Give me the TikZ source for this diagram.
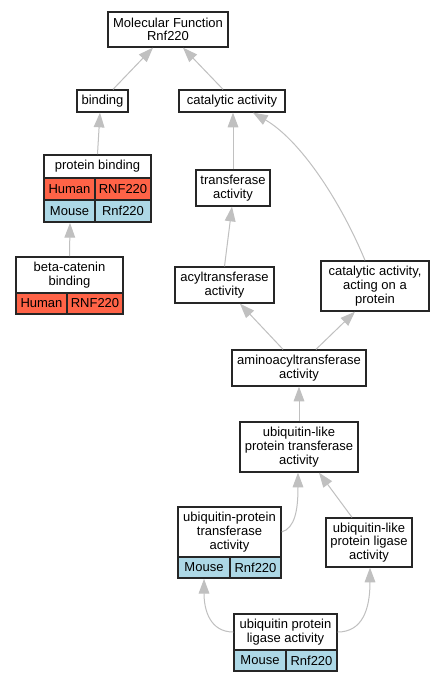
\documentclass[tikz,border=0pt]{standalone}
\usepackage{fontspec}
\setmainfont{Liberation Sans}
\usetikzlibrary{fit,arrows.meta,calc}
\definecolor{tomatoc}{HTML}{FF6347}
\definecolor{lightbluec}{HTML}{ADD8E6}
\definecolor{edgec}{HTML}{C0C0C0}
\begin{document}
\begin{tikzpicture}[x=0.75pt,y=-0.75pt,
  cell/.style={draw=black!85, line width=1pt, inner sep=0pt, align=center, font=\fontsize{9.75}{10.25}\selectfont},
  span/.style n args={4}{minimum width={(#3-#1)*0.75pt}, minimum height={(#4-#2)*0.75pt}, at={({(#1+#3)/2},{(#2+#4)/2})}},
  title/.style={cell, fill=white},
  hum/.style={cell, fill=tomatoc},
  mou/.style={cell, fill=lightbluec},
  grp/.style={inner sep=0pt},
  edge/.style={draw=edgec, line width=0.75pt, -{Triangle[length=11pt,width=8pt]}},
  ]
\useasboundingbox[fill=white] (0,0) rectangle (444,683);

\node[title, span={108}{12}{228}{47}] (mf) {Molecular Function\\Rnf220};
\node[title, span={77}{90}{128}{112}] (bind) {binding};
\node[title, span={179}{90}{285}{112}] (cat) {catalytic activity};

\node[title, span={44}{155}{151}{178}] (pb-t) {protein binding};
\node[hum, span={44}{178}{95}{200}] (pb-h1) {Human};
\node[hum, span={95}{178}{151}{200}] (pb-h2) {RNF220};
\node[mou, span={44}{200}{95}{222}] (pb-m1) {Mouse};
\node[mou, span={95}{200}{151}{222}] (pb-m2) {Rnf220};
\node[grp, fit=(pb-t)(pb-m2)(pb-m1)] (pb) {};

\node[title, span={16}{257}{123}{293}] (bc-t) {beta-catenin\\binding};
\node[hum, span={16}{293}{67}{314}] (bc-h1) {Human};
\node[hum, span={67}{293}{123}{314}] (bc-h2) {RNF220};
\node[grp, fit=(bc-t)(bc-h1)(bc-h2)] (bc) {};

\node[title, span={196}{170}{270}{206}] (tr) {transferase\\activity};
\node[title, span={175}{267}{274}{303}] (acyl) {acyltransferase\\activity};
\node[title, span={321}{261}{429}{311}] (cap) {catalytic activity,\\acting on a\\protein};
\node[title, span={232}{350}{366}{386}] (amino) {aminoacyltransferase\\activity};
\node[title, span={240}{422}{358}{472}] (ult) {ubiquitin-like\\protein transferase\\activity};

\node[title, span={178}{507}{281}{557}] (upt-t) {ubiquitin-protein\\transferase\\activity};
\node[mou, span={178}{557}{230}{578}] (upt-m1) {Mouse};
\node[mou, span={230}{557}{281}{578}] (upt-m2) {Rnf220};
\node[grp, fit=(upt-t)(upt-m1)(upt-m2)] (upt) {};

\node[title, span={326}{518}{412}{567}] (ull) {ubiquitin-like\\protein ligase\\activity};

\node[title, span={234}{614}{337}{650}] (upl-t) {ubiquitin protein\\ligase activity};
\node[mou, span={234}{650}{286}{671}] (upl-m1) {Mouse};
\node[mou, span={286}{650}{337}{671}] (upl-m2) {Rnf220};
\node[grp, fit=(upl-t)(upl-m1)(upl-m2)] (upl) {};

\draw[edge] ([xshift=7.9pt]bind.north) -- ([xshift=-11.25pt]mf.south);
\draw[edge] ([xshift=-6.75pt]cat.north) -- ([xshift=11.25pt]mf.south);
\draw[edge] (pb.north) -- ([xshift=-1.9pt]bind.south);
\draw[edge] (bc.north) -- ([xshift=-20.6pt]pb.south);
\draw[edge] (tr.north) -- (tr.north |- cat.south);
\draw[edge] ([xshift=-7.5pt]cap.north) .. controls (340,200) and (300,140) .. ([xshift=15.75pt]cat.south);
\draw[edge] (acyl.north) -- ([xshift=-0.75pt]tr.south);
\draw[edge] ([xshift=-12pt]amino.north) -- ([xshift=11.6pt]acyl.south);
\draw[edge] ([xshift=12.75pt]amino.north) -- ([xshift=-15pt]cap.south);
\draw[edge] (ult.north) -- (amino.south);
\draw[edge] (upt-t.east) .. controls (295,528) and (298,510) .. ([xshift=-0.75pt]ult.south);
\draw[edge] ([xshift=-12.75pt]ull.north) -- ([xshift=15pt]ult.south);
\draw[edge] (upl-t.west) .. controls (210,632) and (204,610) .. ([xshift=-19.1pt]upt.south);
\draw[edge] (upl-t.east) .. controls (362,632) and (370,610) .. ([xshift=0.75pt]ull.south);
\end{tikzpicture}
\end{document}
